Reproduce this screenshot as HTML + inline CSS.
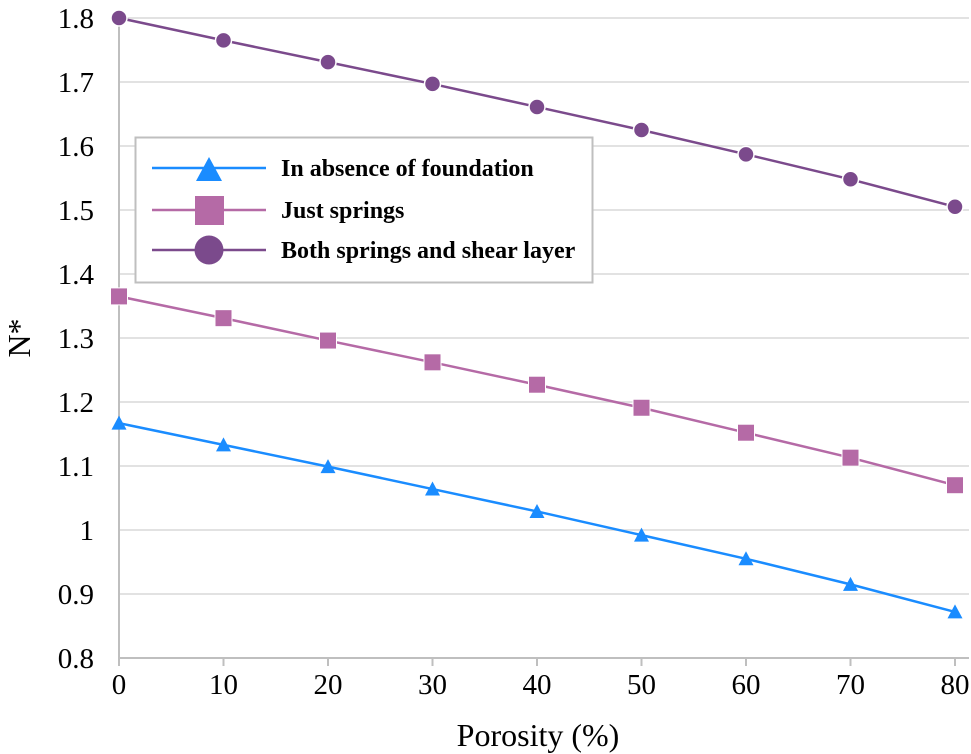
<!DOCTYPE html>
<html><head><meta charset="utf-8">
<style>
html,body{margin:0;padding:0;background:#fff;}
svg{display:block;font-family:"Liberation Serif",serif;}
</style></head>
<body>
<svg id="chart" width="971" height="754" viewBox="0 0 971 754" xmlns="http://www.w3.org/2000/svg">
<g id="grid"></g>
<g id="axes"></g>
<g id="series"></g>
<text x="538" y="746" font-size="32" text-anchor="middle">Porosity (%)</text>
<text transform="translate(30,338) rotate(-90)" font-size="32" text-anchor="middle">N*</text>
<g>
<rect x="135.5" y="137.5" width="457" height="145" fill="#fff" stroke="#bfbfbf" stroke-width="2"/>
<g>
<line x1="152" y1="168" x2="266" y2="168" stroke="#1a8cff" stroke-width="2.5"/>
<polygon points="196,181 209,157 222,181" fill="#1a8cff"/>
<text x="281" y="176" font-size="24" font-weight="bold">In absence of foundation</text></g>
<g>
<line x1="152" y1="210" x2="266" y2="210" stroke="#b56aa6" stroke-width="2.5"/>
<rect x="195" y="196" width="29" height="29" fill="#b56aa6"/>
<text x="281" y="218" font-size="24" font-weight="bold">Just springs</text></g>
<g>
<line x1="152" y1="250" x2="266" y2="250" stroke="#7b4a8c" stroke-width="2.5"/>
<circle cx="209" cy="250" r="14.5" fill="#7b4a8c"/>
<text x="281" y="258" font-size="24" font-weight="bold">Both springs and shear layer</text></g>
</g>
</svg>
<script>
const xCats=[0,10,20,30,40,50,60,70,80];
const yTicks=[0.8,0.9,1,1.1,1.2,1.3,1.4,1.5,1.6,1.7,1.8];
const yTickLabels=["0.8","0.9","1","1.1","1.2","1.3","1.4","1.5","1.6","1.7","1.8"];
const foundation=[1.167,1.133,1.099,1.064,1.029,0.992,0.955,0.915,0.872];
const springs=[1.365,1.331,1.296,1.262,1.227,1.191,1.152,1.113,1.070];
const shear=[1.800,1.765,1.731,1.697,1.661,1.625,1.587,1.548,1.505];

const NS="http://www.w3.org/2000/svg";
const X0=119,X1=955,Y0=658,Y1=18;
const xs=v=>X0+(v-0)/(80-0)*(X1-X0);
const ys=v=>Y0-(v-0.8)/(1.8-0.8)*(Y0-Y1);
function mk(t,a,p){const e=document.createElementNS(NS,t);for(const k in a)e.setAttribute(k,a[k]);p.appendChild(e);return e;}
const grid=document.getElementById('grid'),axes=document.getElementById('axes'),ser=document.getElementById('series');
yTicks.forEach((v,i)=>{
  if(i>0){const g=mk('line',{x1:X0,x2:X1+14,y1:ys(v),y2:ys(v),stroke:'#d9d9d9','stroke-width':1.5},grid);
  
  }
  const t=mk('text',{x:94,y:ys(v)+10,'font-size':29,'text-anchor':'end'},axes);t.textContent=yTickLabels[i];
  
  
});
const ax=mk('line',{x1:X0,x2:X0,y1:Y1,y2:Y0+1,stroke:'#bfbfbf','stroke-width':2},axes);


const bx=mk('line',{x1:X0,x2:X1+14,y1:Y0,y2:Y0,stroke:'#bfbfbf','stroke-width':2},axes);


xCats.forEach(v=>{
  const tk=mk('line',{x1:xs(v),x2:xs(v),y1:Y0,y2:Y0+8,stroke:'#bfbfbf','stroke-width':2},axes);
  
  
  const t=mk('text',{x:xs(v),y:Y0+36,'font-size':29,'text-anchor':'middle'},axes);t.textContent=v;
  
  
});
function series(vals,color,shape,name){
  const g=mk('g',{},ser);
  
  
  const pts=vals.map((v,i)=>xs(xCats[i])+','+ys(v)).join(' ');
  mk('polyline',{points:pts,fill:'none',stroke:color,'stroke-width':2.5},g);
  vals.forEach((v,i)=>{
    const x=xs(xCats[i]),y=ys(v);let m;
    if(shape==='tri')m=mk('polygon',{points:`${x-7.5},${y+6.5} ${x},${y-7.5} ${x+7.5},${y+6.5}`,fill:color},g);
    else if(shape==='sq')m=mk('rect',{x:x-8.5,y:y-8.5,width:17,height:17,fill:color,stroke:'#fff','stroke-width':1},g);
    else m=mk('circle',{cx:x,cy:y,r:8,fill:color,stroke:'#fff','stroke-width':1.5},g);
    
    
  });
}
series(foundation,'#1a8cff','tri','series-foundation');
series(springs,'#b56aa6','sq','series-springs');
series(shear,'#7b4a8c','circ','series-shear');
</script>
</body></html>
